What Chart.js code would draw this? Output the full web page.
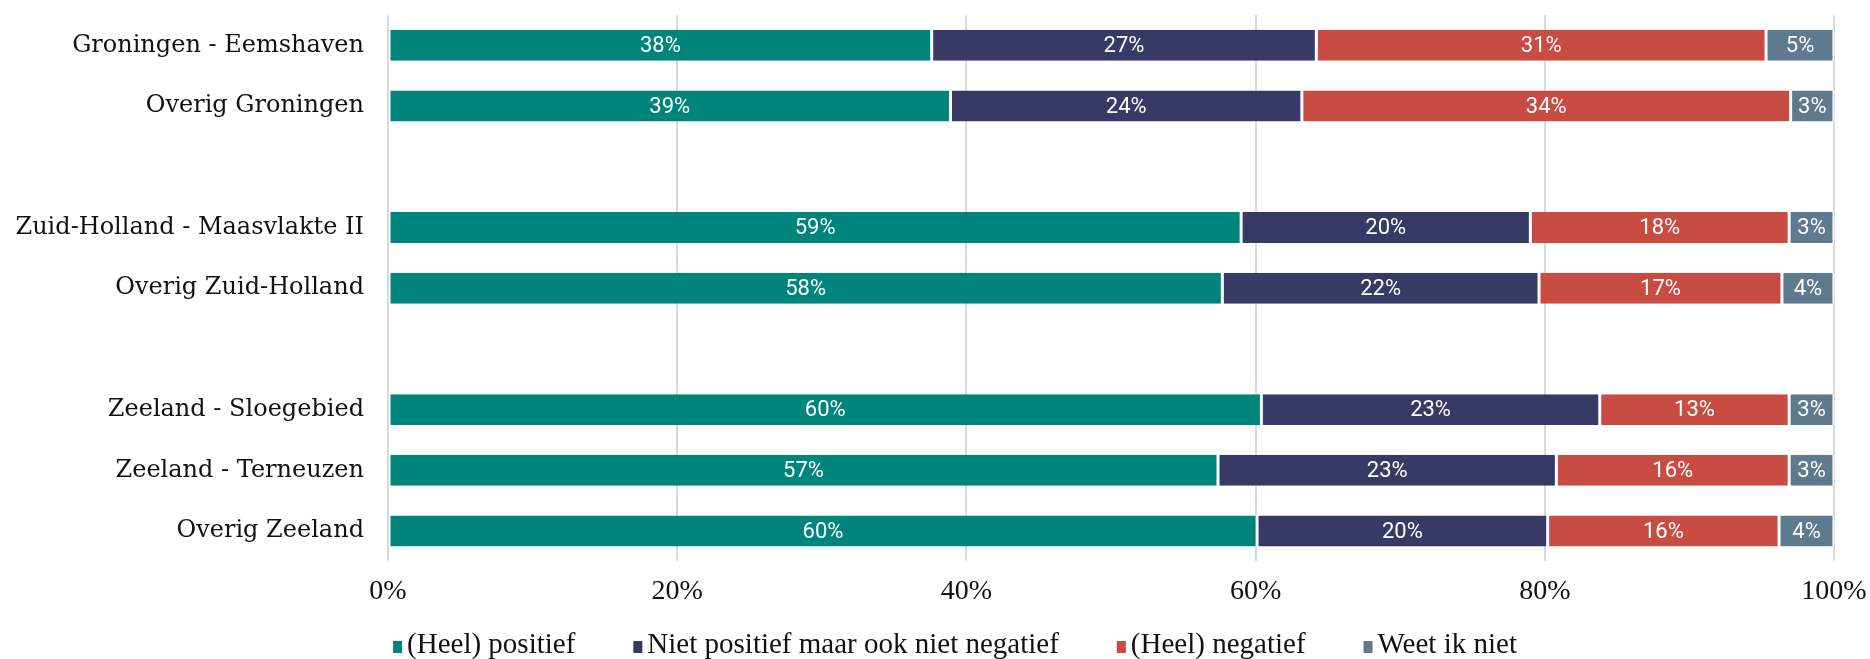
<!DOCTYPE html>
<html>
<head>
<meta charset="utf-8">
<script src="https://cdn.jsdelivr.net/npm/chart.js@4.4.1/dist/chart.umd.min.js"></script>
<style>
  html, body { margin: 0; padding: 0; background: #fff; }
  #wrap { width: 1870px; height: 659px; position: relative; }
</style>
</head>
<body>
<div id="wrap"><canvas id="chart"></canvas></div>
<script>
// categories (empty strings are the spacer rows between provinces)
const regions = [
  'Groningen - Eemshaven', 'Overig Groningen', '',
  'Zuid-Holland - Maasvlakte II', 'Overig Zuid-Holland', '',
  'Zeeland - Sloegebied', 'Zeeland - Terneuzen', 'Overig Zeeland'
];

// shares in %
const positief = [37.6, 38.9, null, 59.0, 57.7, null, 60.4, 57.4, 60.1];
const neutraal = [26.6, 24.3, null, 20.0, 21.9, null, 23.4, 23.4, 20.1];
const negatief = [31.1, 33.8, null, 17.9, 16.8, null, 13.1, 16.1, 16.0];
const weetNiet = [4.7, 3.0, null, 3.1, 3.6, null, 3.1, 3.1, 3.8];

const seriesNames = ['(Heel) positief', 'Niet positief maar ook niet negatief', '(Heel) negatief', 'Weet ik niet'];
const seriesColors = ['#00857c', '#383a66', '#c94c43', '#5e7a8f'];
const xTicks = [0, 20, 40, 60, 80, 100];

const serifFont = "'Liberation Serif', 'DejaVu Serif', serif";

const segmentLabels = {
  id: 'segmentLabels',
  afterDatasetsDraw(chart) {
    const { ctx } = chart;
    ctx.save();
    ctx.font = "22px Roboto, 'Noto Sans', sans-serif";
    ctx.fillStyle = '#ffffff';
    ctx.textAlign = 'center';
    ctx.textBaseline = 'middle';
    chart.data.datasets.forEach((ds, i) => {
      const meta = chart.getDatasetMeta(i);
      meta.data.forEach((bar, j) => {
        const v = ds.data[j];
        if (v == null) return;
        ctx.fillText(Math.round(v) + '%', (bar.x + bar.base) / 2, bar.y + 1);
      });
    });
    ctx.restore();
  }
};

// legend drawn by hand so the item spacing can match the original
const bottomLegend = {
  id: 'bottomLegend',
  afterDraw(chart) {
    const { ctx } = chart;
    const box = 9, boxH = 12, textGap = 5, itemGap = 58, y = 645, center = 955;
    ctx.save();
    ctx.font = '29px ' + serifFont;
    ctx.textBaseline = 'middle';
    const widths = seriesNames.map((n) => box + textGap + ctx.measureText(n).width);
    const total = widths.reduce((a, b) => a + b, 0) + itemGap * (widths.length - 1);
    let x = center - total / 2;
    seriesNames.forEach((n, i) => {
      ctx.fillStyle = seriesColors[i];
      ctx.fillRect(x, y - boxH / 2 + 2, box, boxH);
      ctx.fillStyle = '#111111';
      ctx.textAlign = 'left';
      ctx.fillText(n, x + box + textGap, y);
      x += widths[i] + itemGap;
    });
    ctx.restore();
  }
};

const seriesData = [positief, neutraal, negatief, weetNiet];

new Chart(document.getElementById('chart'), {
  type: 'bar',
  data: {
    labels: regions,
    datasets: seriesData.map((d, i) => ({
      label: seriesNames[i],
      data: d,
      backgroundColor: seriesColors[i],
      borderColor: '#ffffff',
      borderWidth: { left: 1.5, right: 1.5, top: 0, bottom: 0 },
      borderSkipped: false,
      barPercentage: 0.51,
      categoryPercentage: 1
    }))
  },
  options: {
    indexAxis: 'y',
    responsive: true,
    maintainAspectRatio: false,
    animation: false,
    layout: { padding: { top: 15, right: 36, bottom: 38, left: 0 } },
    plugins: {
      legend: { display: false },
      tooltip: { enabled: false }
    },
    scales: {
      x: {
        stacked: true,
        min: 0,
        max: 100,
        afterBuildTicks: (s) => { s.ticks = xTicks.map((v) => ({ value: v })); },
        afterFit: (s) => { s.paddingLeft = 0; s.paddingRight = 0; },
        ticks: {
          callback: (v) => v + '%',
          color: '#111111',
          font: { family: serifFont, size: 28 },
          padding: 13
        },
        grid: { color: '#d9d9d9', lineWidth: 2, drawTicks: false },
        border: { display: false }
      },
      y: {
        stacked: true,
        afterFit: (s) => { s.width = 388; s.paddingTop = 0; s.paddingBottom = 0; },
        ticks: {
          color: '#111111',
          font: { family: "'DejaVu Serif', serif", size: 24 },
          padding: 24
        },
        grid: { display: false, drawTicks: false },
        border: { display: false }
      }
    }
  },
  plugins: [segmentLabels, bottomLegend]
});
</script>
</body>
</html>
